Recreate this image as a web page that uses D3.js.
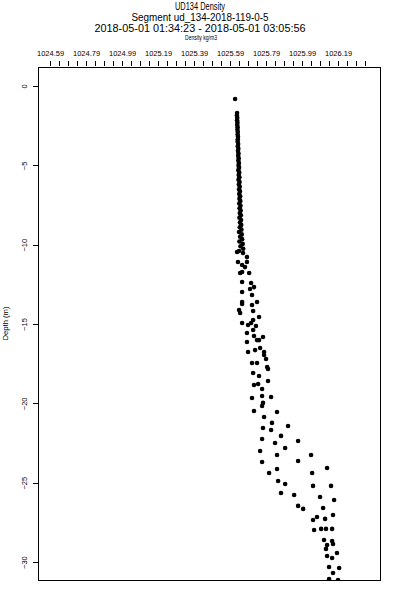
<!DOCTYPE html>
<html>
<head>
<meta charset="utf-8">
<script src="https://cdn.jsdelivr.net/npm/d3@7"></script>
<style>
  body { margin: 0; background: #fff; }
  text { font-family: "Liberation Sans", Arial, sans-serif; fill: #000; }
</style>
</head>
<body>
<div class="PLOT"></div>
<script>
// titles
var titleLines = ["UD134 Density", "Segment ud_134-2018-119-0-5", "2018-05-01 01:34:23 - 2018-05-01 03:05:56"];
var xTitle = "Density kg/m3";
var yTitle = "Depth (m)";

// tick values
var xLabels = [1024.59, 1024.79, 1024.99, 1025.19, 1025.39, 1025.59, 1025.79, 1025.99, 1026.19];
var yTicks = [0, -5, -10, -15, -20, -25, -30];

// profile samples
var depth = [-0.82,
  -1.70, -1.85, -2.00, -2.15, -2.30, -2.45, -2.60, -2.75, -2.90, -3.05,
  -3.20, -3.35, -3.50, -3.65, -3.80, -3.95, -4.10, -4.25, -4.40, -4.55,
  -4.70, -4.85, -5.00, -5.15, -5.30, -5.45, -5.60, -5.75, -5.90, -6.05,
  -6.20, -6.35, -6.50, -6.65, -6.80, -6.95, -7.10, -7.25, -7.40, -7.55,
  -7.70, -7.85, -8.00, -8.15, -8.30, -8.45, -8.60, -8.75, -8.90, -9.05,
  -9.20, -9.35, -9.50, -9.65, -9.80, -9.95, -10.10, -10.25, -10.40,
  -10.46, -10.52, -10.78, -11.09, -11.09, -11.28, -11.41, -11.72, -11.78, -11.78,
  -12.35, -12.41, -12.67, -12.79, -12.98, -13.17, -13.61, -13.61, -13.74, -13.80,
  -14.18, -14.11, -14.30, -14.56, -14.74, -14.93, -14.93, -15.06, -15.12, -15.37,
  -15.56, -15.75, -15.82, -16.01, -16.01, -16.13, -16.51, -16.64, -16.76, -16.76,
  -16.95, -17.20, -17.45, -17.45, -17.71, -17.83, -18.08, -18.27, -18.59, -18.84,
  -18.78, -19.09, -19.66, -19.53, -19.60, -19.97, -20.16, -20.48, -20.54, -20.86,
  -21.23, -21.55, -21.68, -21.42, -22.24, -22.05, -22.50, -22.37, -22.81, -23.00,
  -23.25, -23.25, -23.69, -23.63, -24.07, -24.13, -24.39, -24.39, -24.89, -25.08,
  -25.20, -25.20, -25.65, -25.77, -25.90, -26.09, -26.46, -26.65, -26.59, -27.03,
  -27.16, -27.35, -27.28, -27.98, -27.91, -27.91, -27.91, -28.61, -28.67, -28.86,
  -28.92, -29.17, -29.43, -29.62, -29.74, -30.31, -30.37, -30.69, -31.07, -31.13];

var density = [1025.618,
  1025.629, 1025.628, 1025.630, 1025.629, 1025.631, 1025.630, 1025.632, 1025.631, 1025.633, 1025.632,
  1025.634, 1025.633, 1025.632, 1025.635, 1025.633, 1025.636, 1025.634, 1025.637, 1025.635, 1025.638,
  1025.636, 1025.639, 1025.637, 1025.640, 1025.636, 1025.641, 1025.638, 1025.642, 1025.637, 1025.643,
  1025.639, 1025.644, 1025.640, 1025.645, 1025.641, 1025.646, 1025.642, 1025.647, 1025.641, 1025.648,
  1025.643, 1025.649, 1025.644, 1025.650, 1025.642, 1025.651, 1025.645, 1025.652, 1025.644, 1025.653,
  1025.640, 1025.655, 1025.646, 1025.657, 1025.642, 1025.660, 1025.648, 1025.663, 1025.640,
  1025.629, 1025.662, 1025.684, 1025.684, 1025.634, 1025.657, 1025.673, 1025.657, 1025.696, 1025.646,
  1025.657, 1025.707, 1025.723, 1025.701, 1025.657, 1025.712, 1025.740, 1025.657, 1025.657, 1025.712,
  1025.718, 1025.640, 1025.646, 1025.751, 1025.718, 1025.657, 1025.707, 1025.690, 1025.734, 1025.718,
  1025.684, 1025.723, 1025.773, 1025.740, 1025.751, 1025.684, 1025.757, 1025.729, 1025.690, 1025.779,
  1025.779, 1025.790, 1025.712, 1025.740, 1025.796, 1025.801, 1025.718, 1025.751, 1025.801, 1025.723,
  1025.746, 1025.768, 1025.712, 1025.768, 1025.818, 1025.773, 1025.768, 1025.723, 1025.851, 1025.779,
  1025.823, 1025.773, 1025.818, 1025.912, 1025.768, 1025.873, 1025.840, 1025.968, 1025.896, 1025.757,
  1026.040, 1025.851, 1025.768, 1025.968, 1026.129, 1025.851, 1026.046, 1025.807, 1025.857, 1025.896,
  1026.051, 1026.151, 1025.873, 1025.946, 1026.090, 1026.168, 1025.968, 1025.996, 1026.107, 1026.162,
  1026.073, 1026.051, 1026.118, 1026.057, 1026.096, 1026.123, 1026.157, 1026.112, 1026.157, 1026.162,
  1026.129, 1026.123, 1026.184, 1026.129, 1026.157, 1026.140, 1026.196, 1026.162, 1026.140, 1026.190];

var W = 400, H = 600;
var box = {left: 38, right: 380, top: 67, bottom: 580};

var svg = d3.select(".PLOT").append("svg")
    .attr("width", W)
    .attr("height", H);

var x = d3.scaleLinear().domain([1024.523, 1026.423]).range([box.left, box.right]);
var y = d3.scaleLinear().domain([1.2, -31.13]).range([box.top, box.bottom]);

// title block
var titleY = [10, 21, 32];
var titleW = [50, 137, 211];
titleLines.forEach(function(t, k) {
  svg.append("text")
    .attr("x", 200)
    .attr("y", titleY[k])
    .attr("text-anchor", "middle")
    .attr("font-size", "10px")
    .attr("textLength", titleW[k])
    .attr("lengthAdjust", "spacingAndGlyphs")
    .text(t);
});

svg.append("text")
  .attr("x", 201)
  .attr("y", 40)
  .attr("text-anchor", "middle")
  .attr("font-size", "6.5px")
  .attr("textLength", 32)
  .attr("lengthAdjust", "spacingAndGlyphs")
  .text(xTitle);

// top axis: minor ticks every 0.05, labels every 0.2
var minor = d3.range(36).map(function(i) { return +(1024.59 + i * 0.05).toFixed(2); });
var topAxis = d3.axisTop(x)
  .tickValues(minor)
  .tickSize(5)
  .tickPadding(5)
  .tickFormat(function(d) {
    return xLabels.some(function(v) { return Math.abs(v - d) < 1e-6; }) ? d3.format(".2f")(d) : "";
  });

var gTop = svg.append("g")
  .attr("transform", "translate(0," + (box.top - 1) + ")")
  .call(topAxis);
gTop.select(".domain").remove();
gTop.selectAll("line").attr("stroke", "#000").attr("shape-rendering", "crispEdges");
gTop.selectAll("text")
  .attr("font-family", "Liberation Sans, Arial, sans-serif")
  .attr("font-size", "7.5px")
  .attr("fill", "#000");

// left axis with rotated labels
var leftAxis = d3.axisLeft(y)
  .tickValues(yTicks)
  .tickSize(5)
  .tickFormat(d3.format("d"));

var gLeft = svg.append("g")
  .attr("transform", "translate(" + box.left + ",0)")
  .call(leftAxis);
gLeft.select(".domain").remove();
gLeft.selectAll("line").attr("stroke", "#000").attr("shape-rendering", "crispEdges");
gLeft.selectAll("text")
  .attr("x", 0)
  .attr("y", 0)
  .attr("dy", "0.35em")
  .attr("text-anchor", "middle")
  .attr("transform", "translate(-14,0) rotate(-90)")
  .attr("font-family", "Liberation Sans, Arial, sans-serif")
  .attr("font-size", "7.5px")
  .attr("fill", "#000");

svg.append("text")
  .attr("transform", "translate(8," + ((box.top + box.bottom) / 2) + ") rotate(-90)")
  .attr("text-anchor", "middle")
  .attr("font-size", "7px")
  .attr("textLength", 34)
  .attr("lengthAdjust", "spacingAndGlyphs")
  .text(yTitle);

// plot frame
svg.append("rect")
  .attr("x", box.left + 0.5)
  .attr("y", box.top + 0.5)
  .attr("width", box.right - box.left)
  .attr("height", box.bottom - box.top)
  .attr("fill", "none")
  .attr("stroke", "#000")
  .attr("stroke-width", 1)
  .attr("shape-rendering", "crispEdges");

svg.append("clipPath").attr("id", "clip")
  .append("rect")
  .attr("x", box.left)
  .attr("y", box.top)
  .attr("width", box.right - box.left)
  .attr("height", box.bottom - box.top);

// points
svg.append("g")
  .attr("clip-path", "url(#clip)")
  .selectAll("circle")
  .data(depth)
  .enter().append("circle")
  .attr("cx", function(d, i) { return x(density[i]); })
  .attr("cy", function(d) { return y(d); })
  .attr("r", 2.3)
  .attr("fill", "#000");
</script>
</body>
</html>
